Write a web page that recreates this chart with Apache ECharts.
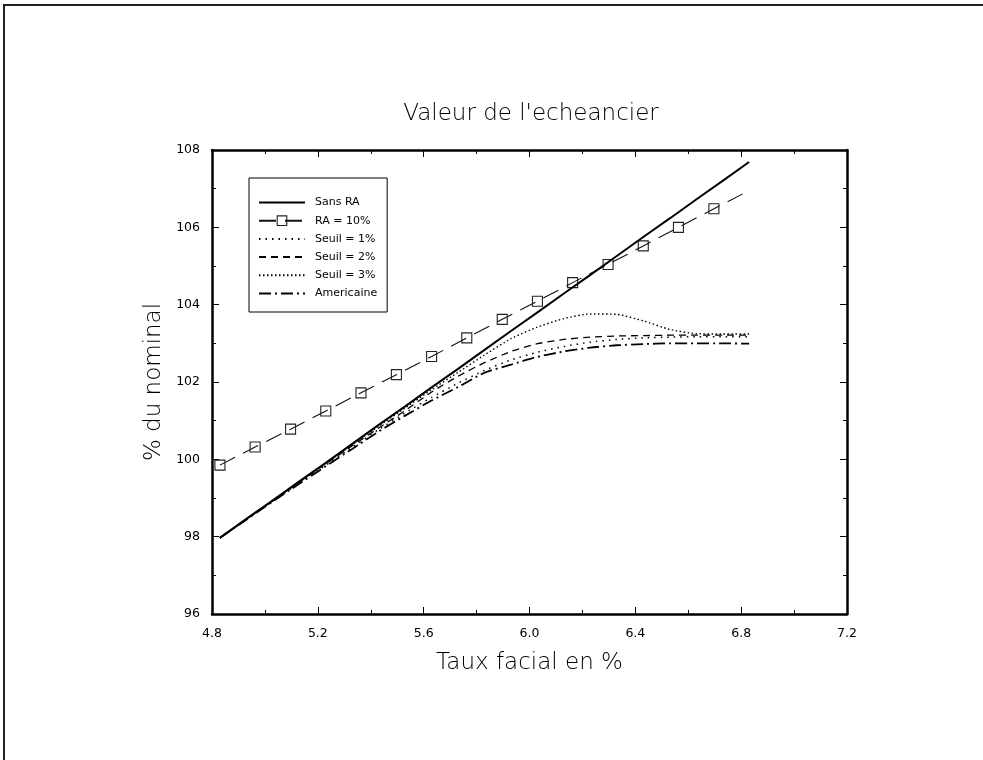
<!DOCTYPE html>
<html><head><meta charset="utf-8">
<script src="https://cdn.jsdelivr.net/npm/echarts@6/dist/echarts.min.js"></script>
<style>html,body{margin:0;padding:0;background:#fff}#c{width:983px;height:760px}</style>
</head><body><div id="c"></div>
<script>
const titleText = "Valeur de l'echeancier";
const xName = "Taux facial en %";
const yName = "% du nominal";
const seriesNames = ["Sans RA", "RA = 10%", "Seuil = 1%", "Seuil = 2%", "Seuil = 3%", "Americaine"];

const xGrid = [4.83, 4.93, 5.03, 5.13, 5.23, 5.33, 5.43, 5.53, 5.63, 5.73, 5.83, 5.93, 6.03, 6.13, 6.23, 6.33, 6.43, 6.53, 6.63, 6.73, 6.83];
const sansRA =     [97.97, 98.46, 98.94, 99.43, 99.91, 100.40, 100.89, 101.37, 101.86, 102.34, 102.83, 103.32, 103.80, 104.29, 104.77, 105.26, 105.75, 106.23, 106.72, 107.20, 107.69];
const seuil1 =     [97.97, 98.45, 98.92, 99.39, 99.85, 100.31, 100.77, 101.20, 101.60, 101.97, 102.30, 102.57, 102.77, 102.92, 103.03, 103.10, 103.14, 103.16, 103.17, 103.17, 103.17];
const seuil2 =     [97.97, 98.45, 98.93, 99.41, 99.88, 100.35, 100.81, 101.26, 101.74, 102.15, 102.50, 102.79, 102.99, 103.10, 103.16, 103.19, 103.20, 103.21, 103.21, 103.21, 103.21];
const seuil3 =     [97.97, 98.46, 98.94, 99.42, 99.90, 100.38, 100.86, 101.33, 101.80, 102.25, 102.70, 103.12, 103.42, 103.64, 103.76, 103.75, 103.58, 103.36, 103.25, 103.24, 103.24];
const americaine = [97.97, 98.44, 98.91, 99.37, 99.82, 100.27, 100.72, 101.13, 101.52, 101.87, 102.24, 102.45, 102.65, 102.79, 102.89, 102.95, 102.98, 103.00, 103.00, 103.00, 102.99];
const raX = [4.83, 4.963, 5.097, 5.23, 5.363, 5.497, 5.63, 5.763, 5.897, 6.03, 6.163, 6.297, 6.43, 6.563, 6.697, 6.83];
const raY = [99.85, 100.32, 100.78, 101.25, 101.72, 102.19, 102.66, 103.14, 103.62, 104.09, 104.57, 105.04, 105.52, 106.00, 106.48, 106.95];

const xMin = 4.8, xMax = 7.2, xStep = 0.4;
const yMin = 96, yMax = 108, yStep = 2;

const pair = (xs, ys) => xs.map((x, i) => [x, ys[i]]);
const raData = raX.map((x, i) => i === raX.length - 1 ? {value: [x, raY[i]], symbol: 'none'} : [x, raY[i]]);

const FONT = 'DejaVu Sans';
const axisCommon = (pos, showLabel) => ({
  type: 'value', position: pos,
  axisLine: {show: true, onZero: false, lineStyle: {color: '#000', width: 2.5}},
  axisTick: {show: true, inside: true, length: 7, lineStyle: {color: '#000', width: 1}},
  minorTick: {show: true, splitNumber: 2, length: 4, lineStyle: {color: '#000', width: 1}},
  splitLine: {show: false},
  axisLabel: {show: showLabel, color: '#000', fontFamily: FONT, fontSize: 12.5, margin: 12}
});
const nameStyle = {fontFamily: FONT, fontWeight: 200, fontSize: 23, color: '#000'};

const chart = echarts.init(document.getElementById('c'), null, {renderer: 'canvas'});
const lineBase = {type: 'line', showSymbol: false, symbol: 'none', animation: false, xAxisIndex: 0, yAxisIndex: 0, z: 3, smooth: 0.2};
chart.setOption({
  animation: false,
  backgroundColor: '#fff',
  title: {text: titleText, left: 526, top: 98, textAlign: 'center',
    textStyle: {fontFamily: FONT, fontWeight: 200, fontSize: 23, color: '#000'}},
  grid: {left: 212, top: 150, right: 136, bottom: 146},
  legend: {
    orient: 'vertical', left: 249, top: 178,
    data: seriesNames.map((n, i) => i === 1
      ? {name: n, itemStyle: {opacity: 1, color: 'rgba(255,255,255,0)', borderColor: '#222', borderWidth: 1.1}}
      : {name: n}),
    itemWidth: 46, itemHeight: 12, itemGap: 7.2,
    padding: [19, 10, 13, 9],
    itemStyle: {opacity: 0},
    borderColor: '#000', borderWidth: 1, backgroundColor: '#fff',
    textStyle: {fontFamily: FONT, fontSize: 11, color: '#000', padding: [0, 0, 0, 5]}
  },
  xAxis: [
    Object.assign(axisCommon('bottom', true), {min: xMin, max: xMax, interval: xStep,
      name: xName, nameLocation: 'middle', nameGap: 38, nameTextStyle: nameStyle,
      axisLabel: {show: true, color: '#000', fontFamily: FONT, fontSize: 12.5, margin: 13,
        formatter: v => v.toFixed(1)}}),
    Object.assign(axisCommon('top', false), {min: xMin, max: xMax, interval: xStep})
  ],
  yAxis: [
    Object.assign(axisCommon('left', true), {min: yMin, max: yMax, interval: yStep,
      name: yName, nameLocation: 'middle', nameGap: 44, nameTextStyle: nameStyle}),
    Object.assign(axisCommon('right', false), {min: yMin, max: yMax, interval: yStep})
  ],
  graphic: [{type: 'rect', shape: {x: 4, y: 5, width: 1100, height: 900}, style: {fill: 'none', stroke: '#222', lineWidth: 2}, silent: true}],
  series: [
    Object.assign({}, lineBase, {name: seriesNames[0], data: pair(xGrid, sansRA), smooth: false, lineStyle: {color: '#000', width: 2, type: 'solid'}, itemStyle: {color: '#000'}, z: 5}),
    Object.assign({}, lineBase, {name: seriesNames[1], data: raData, smooth: false, showSymbol: true, symbol: 'rect', symbolSize: 10,
      lineStyle: {color: '#111', width: 1.1, type: [17, 9]},
      itemStyle: {color: 'rgba(255,255,255,0)', borderColor: '#222', borderWidth: 1.1}}),
    Object.assign({}, lineBase, {name: seriesNames[2], data: pair(xGrid, seuil1), lineStyle: {color: '#000', width: 1.5, type: [1.5, 5]}, itemStyle: {color: '#000'}}),
    Object.assign({}, lineBase, {name: seriesNames[3], data: pair(xGrid, seuil2), lineStyle: {color: '#000', width: 1.3, type: [7, 5]}, itemStyle: {color: '#000'}}),
    Object.assign({}, lineBase, {name: seriesNames[4], data: pair(xGrid, seuil3), lineStyle: {color: '#000', width: 1.4, type: [1.5, 2.5]}, itemStyle: {color: '#000'}}),
    Object.assign({}, lineBase, {name: seriesNames[5], data: pair(xGrid, americaine), lineStyle: {color: '#000', width: 1.8, type: [12, 4, 2, 4]}, itemStyle: {color: '#000'}})
  ]
});
</script></body></html>
